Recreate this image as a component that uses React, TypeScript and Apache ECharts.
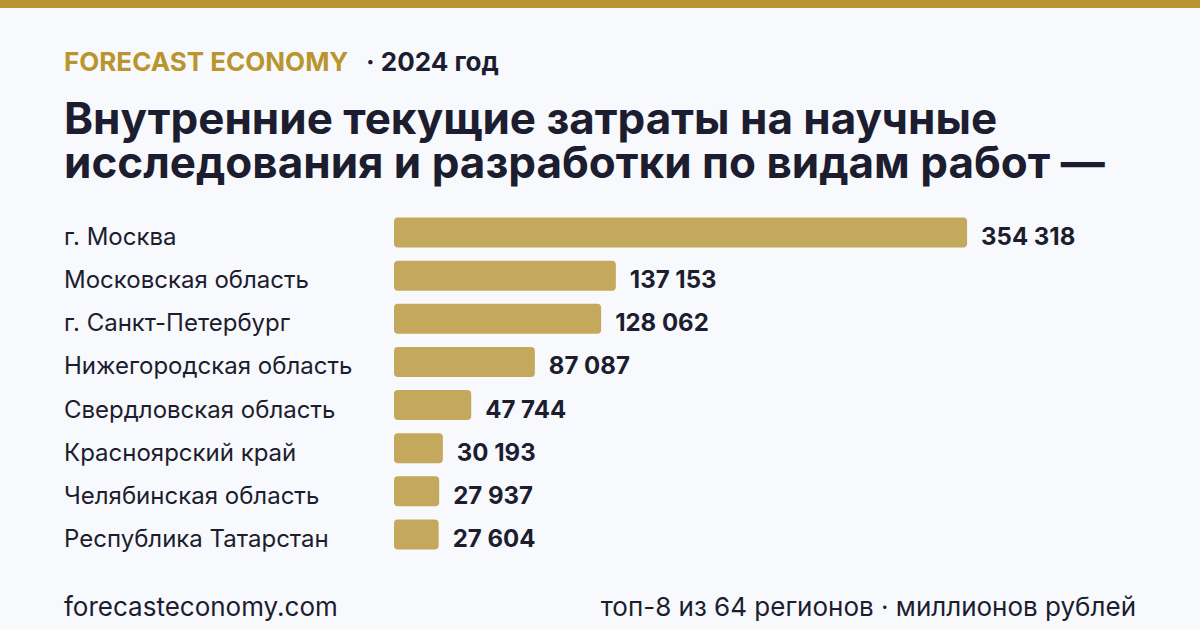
import React, { useEffect, useRef } from "react";
import * as echarts from "echarts";

const regions = [
  "г. Москва",
  "Московская область",
  "г. Санкт-Петербург",
  "Нижегородская область",
  "Свердловская область",
  "Красноярский край",
  "Челябинская область",
  "Республика Татарстан",
];
const values = [354318, 137153, 128062, 87087, 47744, 30193, 27937, 27604];

const titleLines = [
  "Внутренние текущие затраты на научные",
  "исследования и разработки по видам работ —",
];
const brand = "FORECAST ECONOMY";
const yearLabel = "· 2024 год";
const siteLabel = "forecasteconomy.com";
const noteLabel = "топ-8 из 64 регионов · миллионов рублей";

const GOLD = "#b8952e";
const BAR = "#c4a85c";
const INK = "#1d1d30";
const BG = "#f8f9fc";
const FONT = "Inter, 'Noto Sans', sans-serif";

const fmt = (v: number) =>
  String(v).replace(/\B(?=(\d{3})+(?!\d))/g, " ");

export default function App() {
  const ref = useRef<HTMLDivElement>(null);

  useEffect(() => {
    if (!ref.current) return;
    const chart = echarts.init(ref.current, undefined, { renderer: "svg" });
    chart.setOption({
      animation: false,
      backgroundColor: BG,
      grid: { left: 394, width: 744, top: 211, height: 345, containLabel: false },
      xAxis: {
        type: "value",
        min: 0,
        max: 460000,
        show: false,
      },
      yAxis: {
        type: "category",
        data: regions,
        inverse: true,
        axisLine: { show: false },
        axisTick: { show: false },
        splitLine: { show: false },
        axisLabel: {
          margin: 330,
          align: "left",
          verticalAlign: "top",
          lineHeight: 8,
          color: INK,
          fontFamily: FONT,
          fontSize: 24,
        },
      },
      series: [
        {
          type: "bar",
          data: values,
          barWidth: 30,
          itemStyle: { color: BAR, borderRadius: 4 },
          label: {
            show: true,
            position: "right",
            distance: 14,
            offset: [0, 4],
            color: INK,
            fontFamily: FONT,
            fontSize: 24,
            fontWeight: "bold",
            formatter: (p: any) => fmt(p.value),
          },
        },
      ],
      graphic: [
        {
          type: "rect",
          shape: { x: 0, y: 0, width: 1200, height: 8 },
          style: { fill: GOLD },
        },
        {
          type: "text",
          x: 64,
          y: 61,
          style: {
            text: brand,
            fill: GOLD,
            font: `bold 26px ${FONT}`,
            verticalAlign: "middle",
          },
        },
        {
          type: "text",
          x: 366,
          y: 61,
          style: {
            text: yearLabel,
            fill: INK,
            font: `bold 26px ${FONT}`,
            verticalAlign: "middle",
          },
        },
        {
          type: "text",
          x: 64,
          y: 95.5,
          style: {
            text: titleLines.join("\n"),
            fill: INK,
            font: `bold 44px ${FONT}`,
            lineHeight: 44,
            verticalAlign: "top",
          },
        },
        {
          type: "text",
          x: 64,
          y: 606,
          style: {
            text: siteLabel,
            fill: INK,
            font: `26px ${FONT}`,
            verticalAlign: "middle",
          },
        },
        {
          type: "text",
          x: 1136,
          y: 606,
          style: {
            text: noteLabel,
            fill: INK,
            font: `26px ${FONT}`,
            verticalAlign: "middle",
            align: "right",
          },
        },
      ],
    });
    return () => chart.dispose();
  }, []);

  return (
    <div
      ref={ref}
      style={{ position: "fixed", left: 0, top: 0, width: 1200, height: 630 }}
    />
  );
}
